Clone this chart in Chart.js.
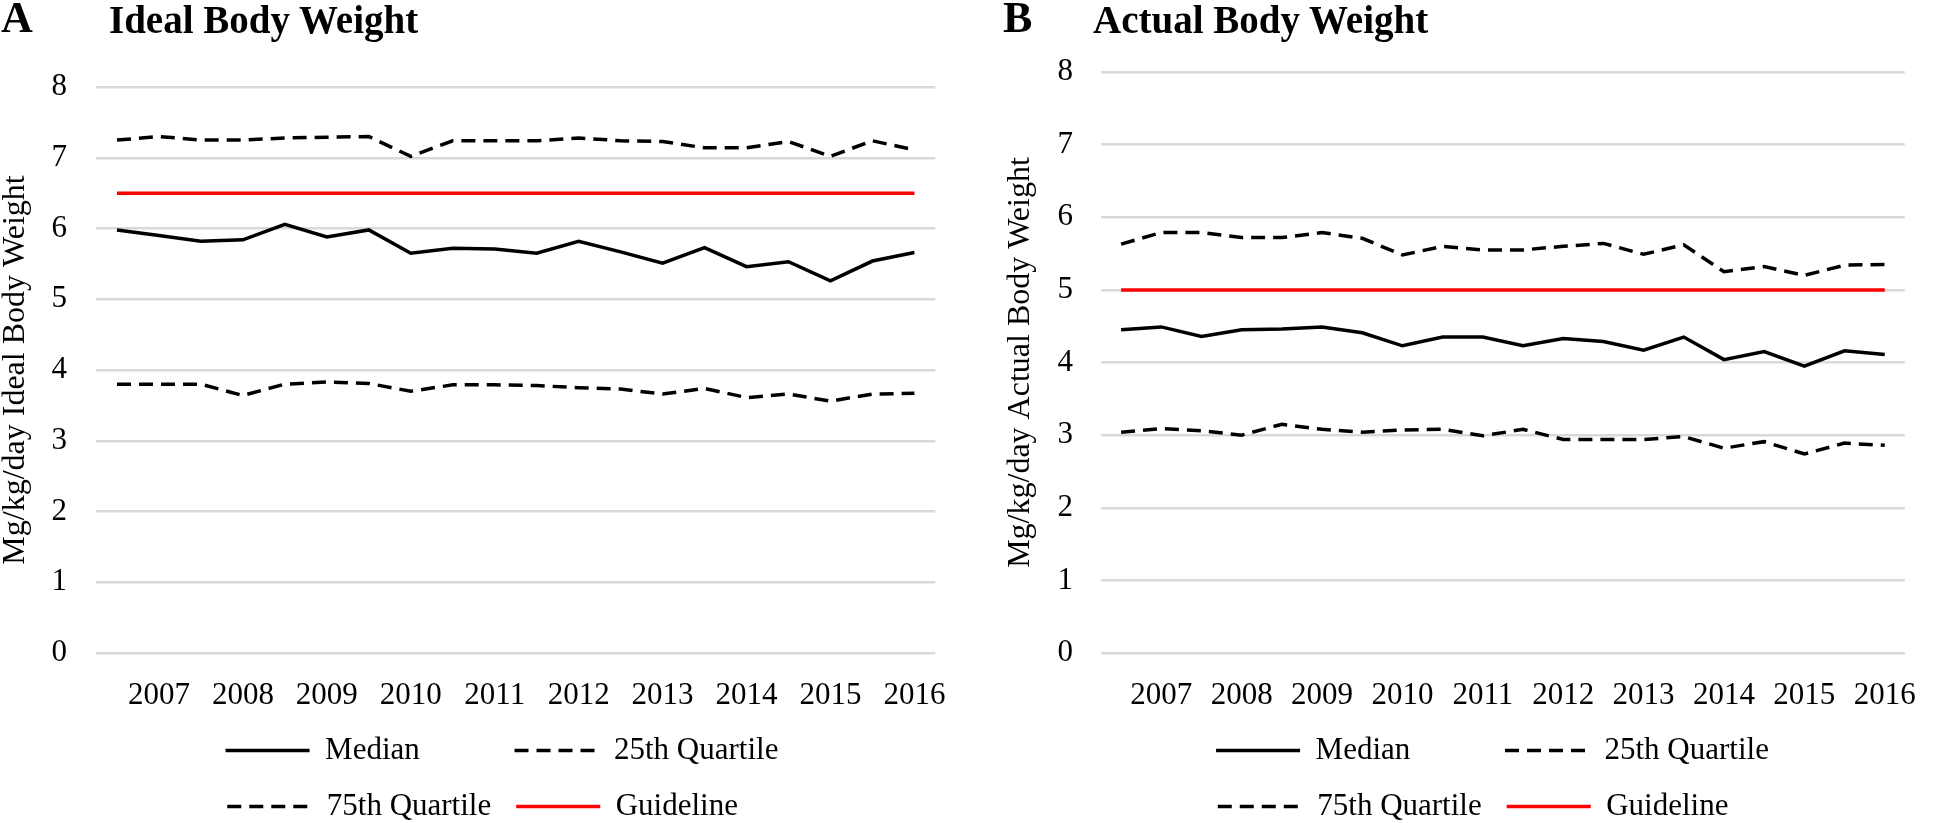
<!DOCTYPE html>
<html>
<head>
<meta charset="utf-8">
<script src="https://cdn.jsdelivr.net/npm/chart.js@4.4.1/dist/chart.umd.min.js"></script>
<style>
  html, body { margin: 0; padding: 0; background: #fff; width: 1940px; height: 823px; overflow: hidden; }
  body { position: relative; font-family: 'Liberation Serif', 'Times New Roman', serif; color: #000; }
  .panel { position: absolute; top: 0; width: 970px; height: 832px; }
  .letter { position: absolute; top: -4px; font-weight: bold; font-size: 44px; line-height: 44px; }
  .title { position: absolute; top: 0; font-weight: bold; font-size: 39px; line-height: 39px; white-space: nowrap; }
</style>
</head>
<body>
<div class="panel" style="left:0"><canvas id="chart-a"></canvas></div>
<div class="panel" style="left:970px"><canvas id="chart-b"></canvas></div>
<div class="letter" style="left:1px">A</div>
<div class="title" style="left:109px">Ideal Body Weight</div>
<div class="letter" style="left:1003px">B</div>
<div class="title" style="left:1093px">Actual Body Weight</div>

<script>
// two readings per year, the year label sits on the second one
const years = ['2007', '2008', '2009', '2010', '2011', '2012', '2013', '2014', '2015', '2016'];
const periods = years.flatMap(y => [y + ' H1', y + ' H2']);

const seriesNames = ['Median', '25th Quartile', '75th Quartile', 'Guideline'];

// A: mg/kg/day, ideal body weight
const idealMedian = [5.98, 5.90, 5.82, 5.84, 6.06, 5.88, 5.98, 5.65, 5.72, 5.71, 5.65, 5.82, 5.67, 5.51, 5.73, 5.46, 5.53, 5.26, 5.54, 5.66];
const idealLow = [3.80, 3.80, 3.80, 3.64, 3.80, 3.83, 3.81, 3.70, 3.79, 3.79, 3.78, 3.75, 3.73, 3.66, 3.74, 3.61, 3.66, 3.56, 3.66, 3.67];
const idealHigh = [7.25, 7.30, 7.25, 7.25, 7.28, 7.29, 7.30, 7.02, 7.24, 7.24, 7.24, 7.28, 7.24, 7.23, 7.14, 7.14, 7.23, 7.02, 7.24, 7.11];
const idealGuide = [6.5, 6.5, 6.5, 6.5, 6.5, 6.5, 6.5, 6.5, 6.5, 6.5, 6.5, 6.5, 6.5, 6.5, 6.5, 6.5, 6.5, 6.5, 6.5, 6.5];

// B: mg/kg/day, actual body weight
const actualMedian = [4.45, 4.49, 4.36, 4.45, 4.46, 4.49, 4.41, 4.23, 4.35, 4.35, 4.23, 4.33, 4.29, 4.17, 4.35, 4.04, 4.15, 3.95, 4.16, 4.11];
const actualLow = [3.04, 3.09, 3.06, 3.00, 3.15, 3.08, 3.04, 3.07, 3.08, 2.99, 3.08, 2.94, 2.94, 2.94, 2.98, 2.82, 2.91, 2.74, 2.89, 2.86];
const actualHigh = [5.63, 5.79, 5.79, 5.72, 5.72, 5.79, 5.71, 5.48, 5.60, 5.55, 5.55, 5.60, 5.64, 5.49, 5.62, 5.25, 5.32, 5.20, 5.34, 5.35];
const actualGuide = [5, 5, 5, 5, 5, 5, 5, 5, 5, 5, 5, 5, 5, 5, 5, 5, 5, 5, 5, 5];

const yMin = 0;
const yMax = 8;

const FONT = "'Liberation Serif', 'Times New Roman', serif";
Chart.defaults.font.family = FONT;
Chart.defaults.color = '#000';

function line(label, data, color, dashed) {
    return {
        label: label,
        data: data,
        borderColor: color,
        backgroundColor: color,
        borderWidth: 3.5,
        borderDash: dashed ? [14, 8] : [],
        pointRadius: 0,
        tension: 0,
        fill: false
    };
}

// pad the legend texts so both legend rows line up in columns
function paddedLabels(chart) {
    const items = Chart.defaults.plugins.legend.labels.generateLabels(chart);
    const ctx = chart.ctx;
    ctx.save();
    ctx.font = '31px ' + FONT;
    const widest = Math.max(...items.map(i => ctx.measureText(i.text).width));
    items.forEach(i => {
        while (ctx.measureText(i.text + ' ').width <= widest + 0.5) i.text += ' ';
    });
    ctx.restore();
    return items;
}

function makeChart(id, p) {
    new Chart(document.getElementById(id), {
        type: 'line',
        data: {
            labels: periods,
            datasets: [
                line(seriesNames[0], p.median, '#000', false),
                line(seriesNames[1], p.low, '#000', true),
                line(seriesNames[2], p.high, '#000', true),
                line(seriesNames[3], p.guide, '#ff0000', false)
            ]
        },
        options: {
            responsive: true,
            maintainAspectRatio: false,
            animation: false,
            layout: { padding: { left: p.padLeft, right: p.padRight, top: p.padTop, bottom: 0 } },
            scales: {
                x: {
                    offset: true,
                    grid: { display: false, drawTicks: false },
                    border: { display: false },
                    ticks: {
                        autoSkip: false,
                        maxRotation: 0,
                        padding: 24,
                        font: { size: 31 },
                        callback: (value, index) => index % 2 === 1 ? years[(index - 1) / 2] : ''
                    },
                    afterFit: scale => { scale.height = 57; }
                },
                y: {
                    min: yMin,
                    max: yMax,
                    // labels sit left of the plot, right edge p.tickGap px from it
                    ticks: { stepSize: 1, mirror: true, crossAlign: 'far', padding: -(p.tickGap + 15.5), font: { size: 31 } },
                    grid: { color: '#d9d9d9', lineWidth: 2.5, drawTicks: false },
                    border: { display: false },
                    title: {
                        display: true,
                        text: p.yTitle,
                        font: { size: 32 },
                        padding: { top: p.titlePad, bottom: 0 }
                    },
                    afterFit: scale => { scale.width = p.axisWidth; }
                }
            },
            plugins: {
                legend: {
                    position: 'bottom',
                    labels: {
                        boxWidth: 84,
                        boxHeight: 0,
                        padding: 25,
                        font: { size: 31 },
                        color: '#000',
                        generateLabels: paddedLabels
                    }
                },
                tooltip: { enabled: false }
            }
        }
    });
}

makeChart('chart-a', {
    median: idealMedian, low: idealLow, high: idealHigh, guide: idealGuide,
    yTitle: 'Mg/kg/day Ideal Body Weight',
    padLeft: 58, padRight: 24, padTop: 87,
    axisWidth: 38, tickGap: 29, titlePad: -62
});

makeChart('chart-b', {
    median: actualMedian, low: actualLow, high: actualHigh, guide: actualGuide,
    yTitle: 'Mg/kg/day Actual Body Weight',
    padLeft: 85, padRight: 10, padTop: 72,
    axisWidth: 46, tickGap: 28, titlePad: -54
});
</script>
</body>
</html>
